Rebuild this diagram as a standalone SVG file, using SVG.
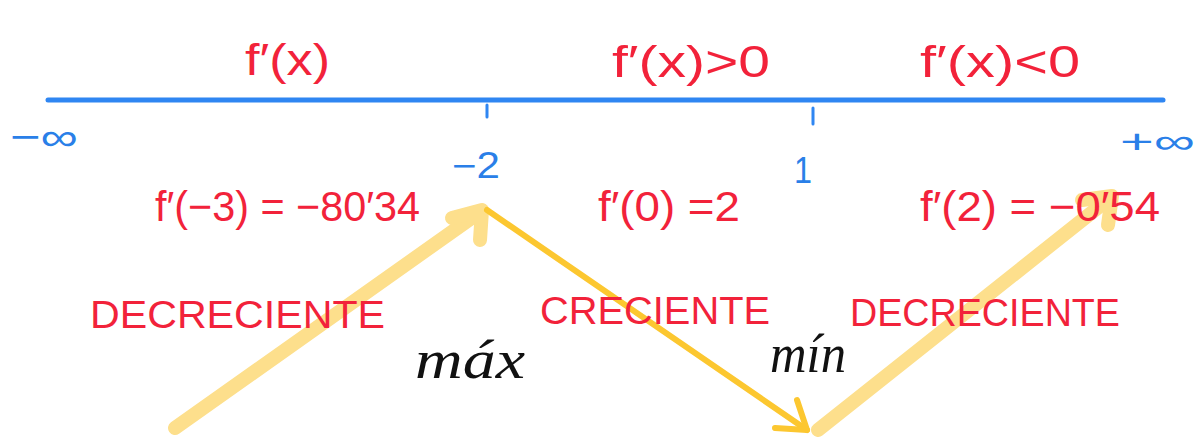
<svg xmlns="http://www.w3.org/2000/svg" width="1201" height="437" viewBox="0 0 1201 437">
<style>
.red{fill:#f2223a;font-family:"Liberation Sans",sans-serif;}
.blue{fill:#2a7fe8;font-family:"Liberation Sans",sans-serif;}
.blk{fill:#111;font-family:"Liberation Serif",serif;font-style:italic;}
.axis{stroke:#2f86f2;stroke-width:5;stroke-linecap:round;fill:none;}
.tick{stroke:#2f86f2;stroke-width:3;stroke-linecap:round;}
.thick{stroke:#fddf8c;stroke-width:14;stroke-linecap:round;stroke-linejoin:round;fill:none;}
.thin{stroke:#fcc730;stroke-width:6;stroke-linecap:round;stroke-linejoin:round;fill:none;}
</style>
<rect width="1201" height="437" fill="#fff"/>
<g id="connectors">
<path class="thick" d="M175,428 L480,212"/>
<path class="thick" d="M452,218 L482,210 L480,240"/>
<path class="thin" d="M487,210 L807,430"/>
<path class="thin" d="M797,400 L807,430 L775,428"/>
<path class="thick" d="M818,430 L1110,198"/>
<path class="thick" d="M1082,200 L1112,196 L1108,225"/>
</g>
<g id="axis">
<line class="axis" x1="48" y1="100" x2="1163" y2="100"/>
<line class="tick" x1="487" y1="105" x2="487" y2="117"/>
<line class="tick" x1="813" y1="108" x2="813" y2="124"/>
<text class="blue" x="10" y="150" font-size="38" textLength="68" lengthAdjust="spacingAndGlyphs">−∞</text>
<text class="blue" x="1120" y="153" font-size="34" textLength="75" lengthAdjust="spacingAndGlyphs">+∞</text>
<text class="blue" x="452" y="178" font-size="36" textLength="48" lengthAdjust="spacingAndGlyphs">−2</text>
<text class="blue" x="794" y="183" font-size="36" textLength="18" lengthAdjust="spacingAndGlyphs">1</text>
</g>
<g id="sign-labels">
<text class="red" x="245" y="75" font-size="44" textLength="85" lengthAdjust="spacingAndGlyphs">f′(x)</text>
<text class="red" x="612" y="77" font-size="44" textLength="158" lengthAdjust="spacingAndGlyphs">f′(x)&gt;0</text>
<text class="red" x="920" y="77" font-size="44" textLength="160" lengthAdjust="spacingAndGlyphs">f′(x)&lt;0</text>
</g>
<g id="values">
<text class="red" x="155" y="221" font-size="42" textLength="265" lengthAdjust="spacingAndGlyphs">f′(−3) = −80′34</text>
<text class="red" x="598" y="221" font-size="42" textLength="142" lengthAdjust="spacingAndGlyphs">f′(0) =2</text>
<text class="red" x="920" y="221" font-size="42" textLength="240" lengthAdjust="spacingAndGlyphs">f′(2) = −0′54</text>
</g>
<g id="behavior">
<text class="red" x="90" y="328" font-size="38" textLength="295" lengthAdjust="spacingAndGlyphs">DECRECIENTE</text>
<text class="red" x="540" y="324" font-size="38" textLength="230" lengthAdjust="spacingAndGlyphs">CRECIENTE</text>
<text class="red" x="850" y="326" font-size="38" textLength="270" lengthAdjust="spacingAndGlyphs">DECRECIENTE</text>
</g>
<g id="extrema">
<text class="blk" x="415" y="378" font-size="54" textLength="110" lengthAdjust="spacingAndGlyphs">máx</text>
<text class="blk" x="770" y="372" font-size="54" textLength="76" lengthAdjust="spacingAndGlyphs">mín</text>
</g>
</svg>
